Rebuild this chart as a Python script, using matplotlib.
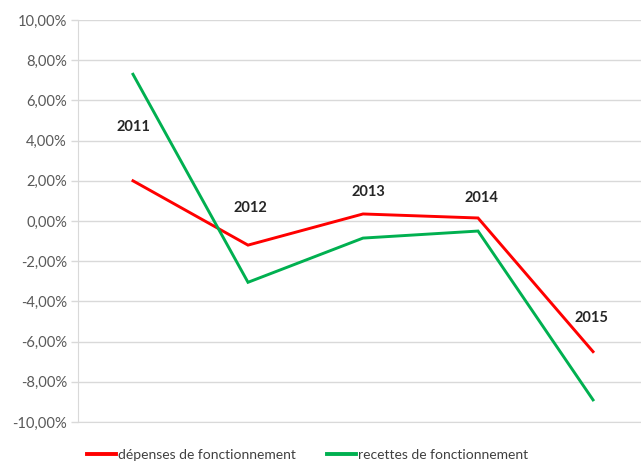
import matplotlib
matplotlib.use('Agg')
import matplotlib.pyplot as plt
from matplotlib.ticker import FuncFormatter

# data (percent change per year)
years = ['2011', '2012', '2013', '2014', '2015']
depenses = [2.0, -1.2, 0.35, 0.15, -6.5]
recettes = [7.3, -3.05, -0.85, -0.5, -8.9]
# year labels sit above the red line, offset in pixels
label_dy = [54, 37, 22, 20, 34]
label_dx = [0, 2, 5, 3, -2]

plt.rcParams['font.family'] = ['Lato', 'DejaVu Sans']

fig = plt.figure(figsize=(6.41, 4.63), dpi=100)
ax = fig.add_axes([78/641, 1-422/463, 1-78/641, (422-20)/463])

x = list(range(len(years)))
l1, = ax.plot(x, depenses, color='#ff0000', lw=2.1, solid_joinstyle='miter',
              label='dépenses de fonctionnement', zorder=3)
l2, = ax.plot(x, recettes, color='#00b050', lw=2.1, solid_joinstyle='miter',
              label='recettes de fonctionnement', zorder=3)

for i, yr in enumerate(years):
    ax.annotate(yr, (x[i], depenses[i]), xytext=(label_dx[i]*0.72, label_dy[i]*0.72),
                textcoords='offset points', ha='center', va='center',
                fontsize=10.5, fontweight='bold', color='#262626')

ax.set_ylim(-10, 10)
ax.set_yticks(range(-10, 11, 2))
ax.yaxis.set_major_formatter(FuncFormatter(lambda v, p: ('%.2f%%' % v).replace('.', ',')))
ax.set_xlim(-0.478, 4.417)
ax.set_xticks([])

ax.grid(axis='y', color='#d9d9d9', lw=1.0)
ax.set_axisbelow(True)
for s in ['top', 'right']:
    ax.spines[s].set_visible(False)
ax.spines['left'].set_color('#d9d9d9')
ax.spines['bottom'].set_color('#d9d9d9')
ax.tick_params(axis='y', colors='#d9d9d9', length=5, width=1, labelsize=10.6,
               labelcolor='#595959', pad=3)

fig.legend(handles=[l1, l2], loc='center left', bbox_to_anchor=(87/641, 1-455/463),
           ncol=2, frameon=False, fontsize=10, handlelength=2.1, handletextpad=0.15,
           columnspacing=2.2, labelcolor='#404040', borderpad=0, borderaxespad=0)
for h in fig.legends[0].get_lines():
    h.set_linewidth(2.8)

fig.savefig('out.png', dpi=100)
